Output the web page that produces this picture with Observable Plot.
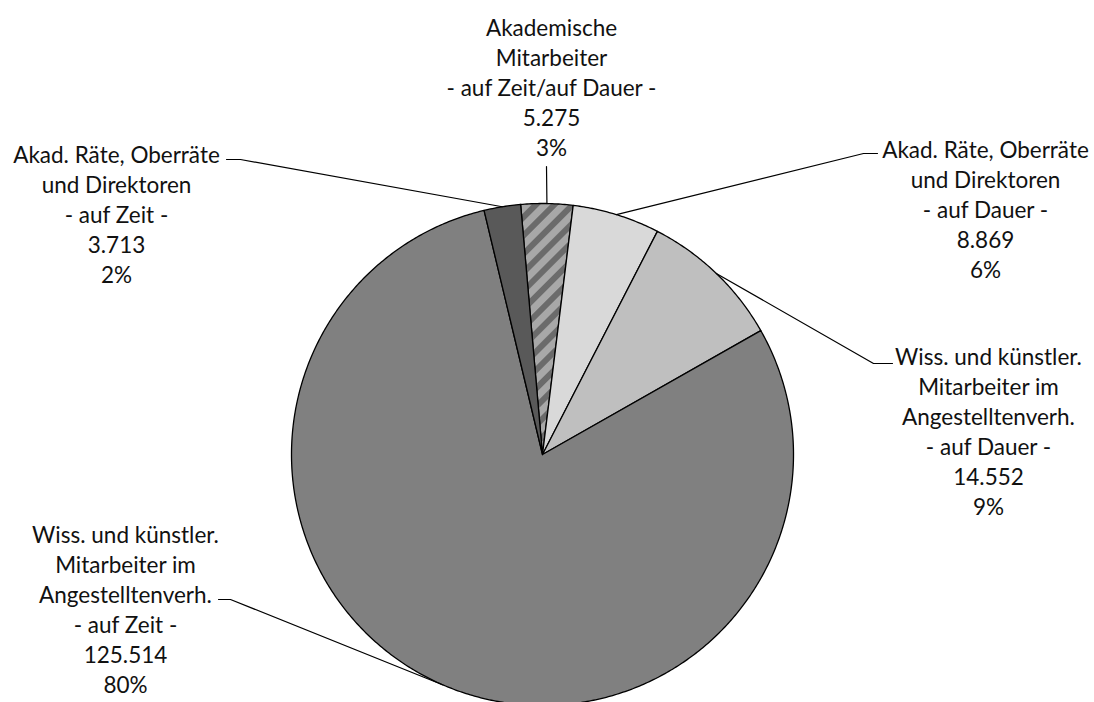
<!DOCTYPE html>
<html>
<head>
<meta charset="utf-8">
<script src="https://cdn.jsdelivr.net/npm/d3@7"></script>
<script src="https://cdn.jsdelivr.net/npm/@observablehq/plot@0.6"></script>
<style>
  html, body { margin: 0; padding: 0; background: #ffffff; }
  #chart { width: 1094px; height: 702px; }
</style>
</head>
<body>
<div id="chart"></div>
<script>
// ---------- data ----------
const categories = [
  "Akademische\nMitarbeiter\n- auf Zeit/auf Dauer -",
  "Akad. Räte, Oberräte\nund Direktoren\n- auf Dauer -",
  "Wiss. und künstler.\nMitarbeiter im\nAngestelltenverh.\n- auf Dauer -",
  "Wiss. und künstler.\nMitarbeiter im\nAngestelltenverh.\n- auf Zeit -",
  "Akad. Räte, Oberräte\nund Direktoren\n- auf Zeit -"
];
const values = [5275, 8869, 14552, 125514, 3713];
const percents = [3, 6, 9, 80, 2];

// ---------- styles / layout ----------
const sliceFills = ["url(#hatch)", "#d9d9d9", "#bfbfbf", "#808080", "#595959"];
const W = 1094, H = 702;
const cx = 542, cy = 454, R = 251;
const startDeg = -5;
// label block centre (x, first-line centre y) and leader elbow/end points
const labelLayout = [
  {x: 551, y0: 26,  elbow: [546, 166], end: [546, 166]},
  {x: 985, y0: 148, elbow: [863, 153], end: [877, 153]},
  {x: 988, y0: 355, elbow: [873, 363], end: [892, 363]},
  {x: 125, y0: 533, elbow: [230, 599], end: [218, 599]},
  {x: 116, y0: 153, elbow: [240, 159], end: [226, 159]}
];
const lineStep = 30;
const fontSize = 22.5;

// ---------- geometry from data ----------
const deLocale = d3.formatLocale({decimal: ",", thousands: ".", grouping: [3], currency: ["", " €"]});
const fmt = deLocale.format(",d");
const arcs = d3.pie().sort(null).value(d => d)
  .startAngle(startDeg * Math.PI / 180)
  .endAngle(startDeg * Math.PI / 180 + 2 * Math.PI)(values);

const px = a => cx + R * Math.sin(a);
const py = a => cy - R * Math.cos(a);

const slices = arcs.map((a, i) => {
  const pts = [{x: cx, y: cy}];
  const n = Math.max(2, Math.ceil((a.endAngle - a.startAngle) / (Math.PI / 360)));
  for (let k = 0; k <= n; k++) {
    const t = a.startAngle + (a.endAngle - a.startAngle) * k / n;
    pts.push({x: px(t), y: py(t)});
  }
  return {pts, fill: sliceFills[i]};
});

const labels = categories.map((c, i) => {
  const nLines = c.split("\n").length + 2;
  const L = labelLayout[i];
  return {
    x: L.x,
    y: L.y0 + (nLines - 1) * lineStep / 2,
    text: c + "\n" + fmt(values[i]) + "\n" + percents[i] + "%"
  };
});

const leaders = arcs.flatMap((a, i) => {
  const m = (a.startAngle + a.endAngle) / 2;
  const L = labelLayout[i];
  return [
    {id: i, x: px(m), y: py(m)},
    {id: i, x: L.elbow[0], y: L.elbow[1]},
    {id: i, x: L.end[0], y: L.end[1]}
  ];
});

const plot = Plot.plot({
  width: W,
  height: H,
  margin: 0,
  style: {background: "#ffffff", fontFamily: "Lato"},
  x: {type: "linear", domain: [0, W], range: [0, W], axis: null},
  y: {type: "linear", domain: [0, H], range: [0, H], axis: null},
  marks: [
    ...slices.map(s => Plot.line(s.pts, {
      x: "x", y: "y", curve: "linear-closed",
      fill: s.fill, stroke: "#000000", strokeWidth: 1.3, strokeLinejoin: "round"
    })),
    Plot.line(leaders, {x: "x", y: "y", z: "id", stroke: "#000000", strokeWidth: 1.2}),
    Plot.text(labels, {
      x: "x", y: "y", text: "text",
      fontSize: fontSize, lineHeight: lineStep / fontSize, fontFamily: "Lato",
      fill: "#111111", textAnchor: "middle", lineAnchor: "middle"
    })
  ]
});

// hatch pattern
const defs = document.createElementNS("http://www.w3.org/2000/svg", "defs");
defs.innerHTML = `<pattern id="hatch" patternUnits="userSpaceOnUse" width="13" height="13" patternTransform="rotate(-45)">
  <rect x="0" y="0" width="13" height="13" fill="#a8a8a8"></rect>
  <rect x="0" y="0" width="13" height="6" fill="#6b6b6b"></rect>
</pattern>`;
plot.insertBefore(defs, plot.firstChild);

document.getElementById("chart").appendChild(plot);
</script>
</body>
</html>
